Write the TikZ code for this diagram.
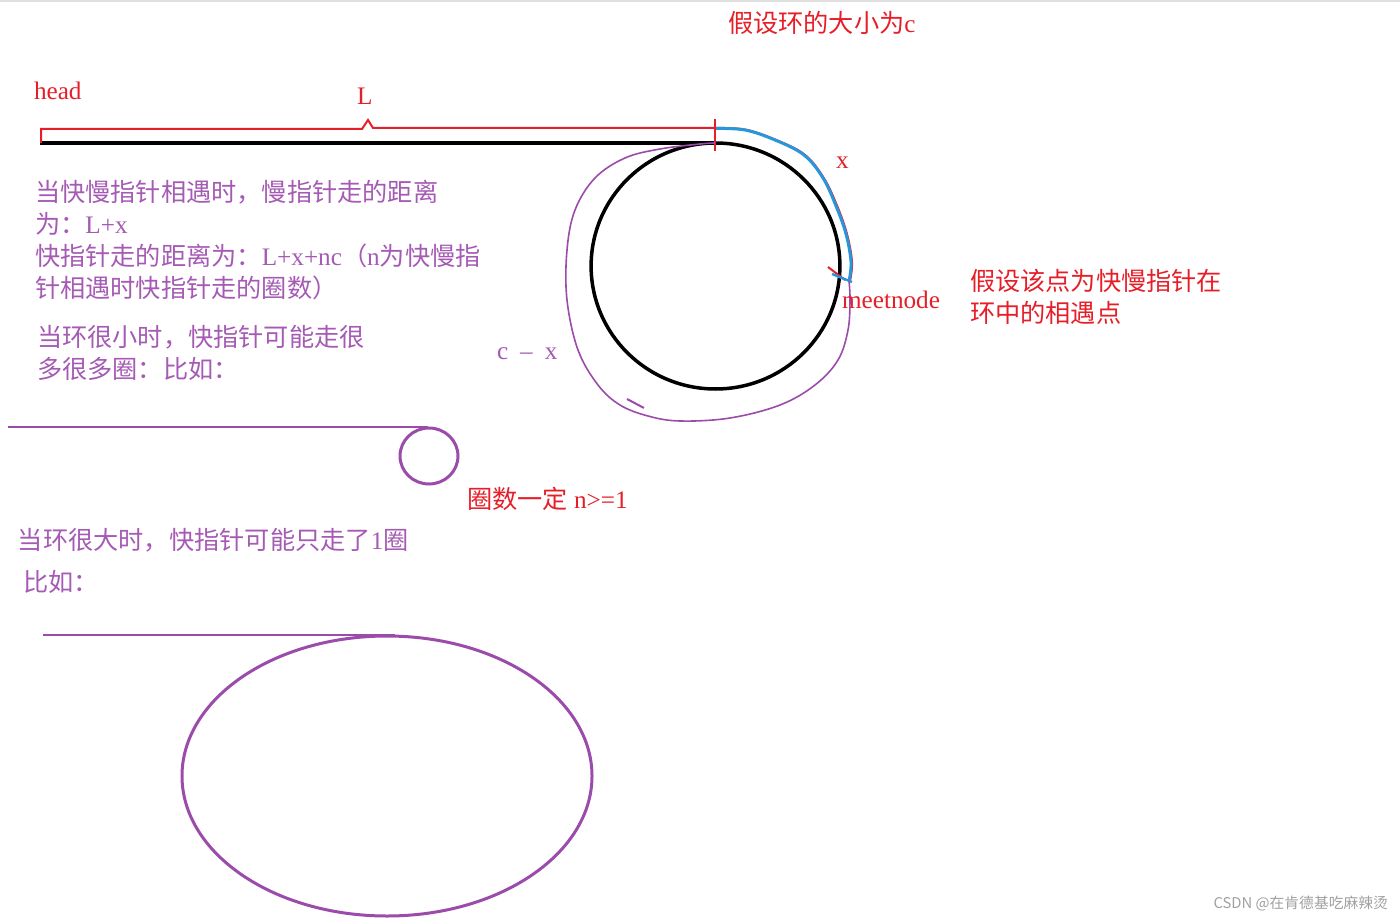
\documentclass[tikz,border=0pt]{standalone}
\usepackage{fontspec}
\setmainfont{Liberation Serif}
\newfontfamily\cjk{Noto Sans CJK SC}
\newcommand\zh[1]{{\cjk #1}}
\definecolor{myred}{RGB}{230,30,40}
\definecolor{mypurple}{RGB}{155,75,170}
\definecolor{txtpurple}{RGB}{165,90,180}
\definecolor{myblue}{RGB}{40,150,220}
\definecolor{wmgray}{RGB}{160,160,160}
\tikzset{
  every node/.style={inner sep=0pt, outer sep=0pt, font=\fontsize{12.6}{16}\selectfont},
  rtext/.style={text=myred, anchor=west},
  ptext/.style={text=txtpurple, anchor=west},
  blackline/.style={draw=black, line width=1.75pt},
  redline/.style={draw=myred, line width=1pt},
  purpthin/.style={draw=mypurple, line width=0.8pt},
  purpthick/.style={draw=mypurple, line width=1.5pt},
}
\begin{document}
\begin{tikzpicture}[x=0.5pt,y=-0.5pt]
\useasboundingbox (0,0) rectangle (1400,919);
\draw[black!12, line width=0.8pt] (0,1) -- (1400,1);

% coordinates
\coordinate (headpt) at (40,143);
\coordinate (entry) at (715,143);
\coordinate (center) at (715.5,266);
\coordinate (meetpt) at (849,281);

% main list line and circle
\draw[blackline] (headpt) -- (entry);
\draw[blackline] (center) ellipse [x radius=62.2pt, y radius=61.5pt];

% red bracket L
\draw[redline] (41,143) -- (41,129) -- (362,129) -- (368,120) -- (373,128) -- (715,128);
\draw[redline] (715,119) -- (715,151);

% x arc (red under blue)
\draw[myred, line width=1pt] plot[smooth, tension=0.6] coordinates {(716,128) (745,129.5) (775,139.5) (804.5,154.5) (823.5,177.5) (837,205.5) (847,234) (852,262) (850,281)};
\draw[myblue, line width=1.5pt] plot[smooth, tension=0.6] coordinates {(716,128.5) (745,130) (775,140) (804,155) (823,178) (836,206) (846,234) (851,262) (849,281)};
\draw[myred, line width=1pt] (828,267) -- (845,280);
\draw[myblue, line width=1.2pt] (832,274) -- (852,282);

% c - x loop
\draw[purpthin] plot[smooth, tension=0.6] coordinates {(meetpt) (850,300) (848,330) (838,360) (815,385) (780,405) (730,418) (680,421) (648,416) (620,405) (598,385) (578,350) (567,300) (567,250) (575,210) (595,178) (625,158) (660,149) (700,144) (entry)};
\draw[purpthin, line width=1pt] (627,399) -- (644,408);

% small loop example
\coordinate (s0) at (8,427);
\coordinate (s1) at (428,427);
\draw[mypurple, line width=1pt] (s0) -- (s1);
\draw[purpthick] (429,456) ellipse [x radius=14.5pt, y radius=14pt];

% big loop example
\coordinate (b0) at (43,635);
\coordinate (b1) at (395,635);
\draw[mypurple, line width=1pt] (b0) -- (b1);
\draw[purpthick] (387,776) ellipse [x radius=102.5pt, y radius=70pt];

% red labels
\node[rtext] (head) at (34,91) {head};
\node[rtext] (Llab) at (357,96) {L};
\node[rtext] (xlab) at (836,163) {x};
\node[rtext] (meet) at (842,300) {meetnode};
\node[rtext] (m1) at (970,281) {\zh{假设该点为快慢指针在}};
\node[rtext] (m2) at (970,313) {\zh{环中的相遇点}};
\node[rtext] (title) at (728,23) {\zh{假设环的大小为}c};
\node[rtext] (n1) at (467,499) {\zh{圈数一定} n>=1};

% purple texts
\node[ptext] (t1) at (35,192) {\zh{当快慢指针相遇时，慢指针走的距离}};
\node[ptext] (t2) at (35,224) {\zh{为：}L+x};
\node[ptext] (t3) at (35,256) {\zh{快指针走的距离为：}L+x+nc\zh{（}n\zh{为快慢指}};
\node[ptext] (t4) at (35,288) {\zh{针相遇时快指针走的圈数）}};
\node[ptext] (t5) at (37,337) {\zh{当环很小时，快指针可能走很}};
\node[ptext] (t6) at (37,369) {\zh{多很多圈：比如：}};
\node[ptext] (t7) at (18,540) {\zh{当环很大时，快指针可能只走了}1\zh{圈}};
\node[ptext] (t8) at (23,582) {\zh{比如：}};
\node[ptext] (cx) at (497,354) {c\hspace{6pt}–\hspace{6pt}x};

% watermark
\node[anchor=east, text=wmgray, font=\cjk\fontsize{7.4}{9}\selectfont] (wm) at (1388,904) {CSDN @在肯德基吃麻辣烫};
\end{tikzpicture}
\end{document}
